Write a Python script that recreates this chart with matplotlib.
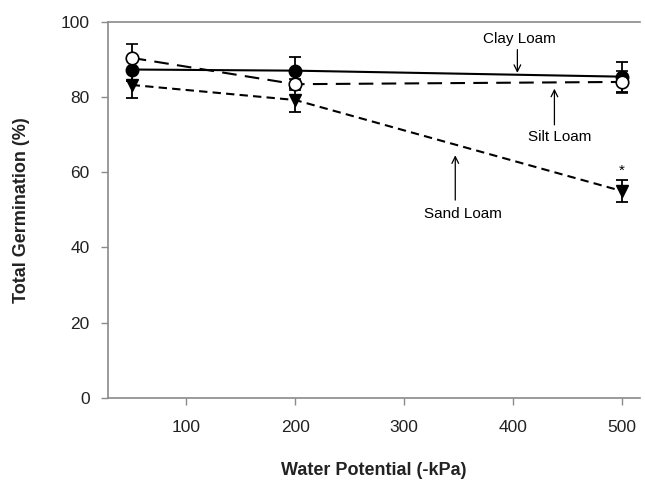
import matplotlib
matplotlib.use("Agg")
import matplotlib.pyplot as plt

# water potential (-kPa)
potential = [50, 200, 500]

clay_loam = [87.3, 87.0, 85.4]
clay_err = [3.0, 3.7, 4.0]
silt_loam = [90.4, 83.4, 84.0]
silt_err = [3.8, 1.5, 3.0]
sand_loam = [83.2, 79.2, 55.0]
sand_err = [3.4, 3.3, 3.0]

x_ticks = [100, 200, 300, 400, 500]
y_ticks = [0, 20, 40, 60, 80, 100]

plt.rcParams["font.family"] = ["Liberation Sans", "DejaVu Sans"]

fig = plt.figure(figsize=(6.45, 4.83), dpi=100)
ax = fig.add_axes([0.167, 0.176, 0.826, 0.779])

ebkw = dict(ecolor="black", elinewidth=1.3, capsize=4, capthick=1.3)

ax.errorbar(potential, clay_loam, yerr=clay_err, color="black", lw=1.5,
            ls="-", marker="o", ms=9, mfc="black", mec="black", zorder=3, **ebkw)
ax.errorbar(potential, sand_loam, yerr=sand_err, color="black", lw=1.5,
            ls=(0, (4, 2.5)), marker="v", ms=9, mfc="black", mec="black", zorder=3, **ebkw)
ax.errorbar(potential, silt_loam, yerr=silt_err, color="black", lw=1.5,
            ls=(0, (7, 4)), marker="o", ms=9, mfc="white", mec="black", mew=1.2,
            zorder=4, **ebkw)

# labels with straight vertical arrows
arrow = dict(arrowstyle="->", color="black", lw=0.9, shrinkA=0, shrinkB=0,
             mutation_scale=12)
ax.text(406, 95.5, "Clay Loam", ha="center", va="center", fontsize=11)
ax.annotate("", xy=(404, 86.4), xytext=(404, 92.6), arrowprops=arrow)
ax.text(443, 69.3, "Silt Loam", ha="center", va="center", fontsize=11)
ax.annotate("", xy=(438, 82.2), xytext=(438, 72.6), arrowprops=arrow)
ax.text(354, 49.0, "Sand Loam", ha="center", va="center", fontsize=11)
ax.annotate("", xy=(347, 64.5), xytext=(347, 52.6), arrowprops=arrow)
ax.text(potential[2], sand_loam[2] + 5.3, "*", ha="center", va="center", fontsize=11)

ax.set_xlim(28, 517)
ax.set_ylim(0, 100)
ax.set_xticks(x_ticks)
ax.set_yticks(y_ticks)

for side in ["left", "bottom", "top"]:
    ax.spines[side].set_color("#8a8a8a")
    ax.spines[side].set_linewidth(1.2)
ax.spines["right"].set_visible(False)
ax.tick_params(direction="out", length=5, width=1.0, color="#8a8a8a",
               labelsize=12.5, labelcolor="#222222")
ax.tick_params(axis="x", pad=11)
ax.tick_params(axis="y", pad=8)

ax.set_xlabel("Water Potential (-kPa)", fontsize=13, fontweight="bold",
              color="#222222", labelpad=19)
ax.set_ylabel("Total Germination (%)", fontsize=13, fontweight="bold",
              color="#222222", labelpad=22)

fig.savefig("out.png", dpi=100)
